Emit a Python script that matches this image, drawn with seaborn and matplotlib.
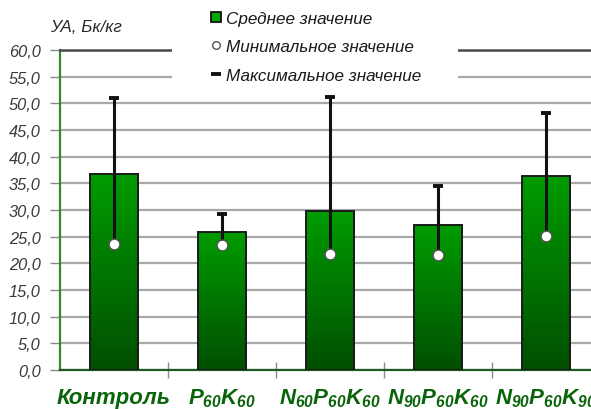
import numpy as np
import pandas as pd
import matplotlib
matplotlib.use("Agg")
import matplotlib.pyplot as plt
import seaborn as sns
from matplotlib.lines import Line2D
from matplotlib.patches import Rectangle
from matplotlib.ticker import FuncFormatter, MultipleLocator, FixedLocator
from matplotlib.colors import LinearSegmentedColormap

# Fertiliser variants and specific activity, Bq/kg
variants = ["Контроль", r"$P_{60}K_{60}$", r"$N_{60}P_{60}K_{60}$",
            r"$N_{90}P_{60}K_{60}$", r"$N_{90}P_{60}K_{90}$"]
mean_vals = [36.7, 25.9, 29.8, 27.1, 36.3]
min_vals = [23.7, 23.4, 21.7, 21.6, 25.1]
max_vals = [51.0, 29.2, 51.2, 34.5, 48.2]
legend_labels = ["Среднее значение", "Минимальное значение", "Максимальное значение"]
y_label = "УА, Бк/кг"

sns.set_theme(style="white")
plt.rcParams["font.family"] = ["Liberation Sans", "DejaVu Sans"]
plt.rcParams["mathtext.fontset"] = "custom"
for key in ("mathtext.rm", "mathtext.it", "mathtext.bf"):
    plt.rcParams[key] = "Liberation Sans:bold:italic"

W, H = 591, 410
fig = plt.figure(figsize=(W / 100, H / 100), dpi=100)
fig.patch.set_facecolor("white")
ax = fig.add_axes([60 / W, 39 / H, 540 / W, 320 / H])
ax.set_facecolor("white")

df = pd.DataFrame({"variant": variants, "mean": mean_vals,
                   "min": min_vals, "max": max_vals})

sns.barplot(data=df, x="variant", y="mean", ax=ax, width=0.445,
            color="#008000", edgecolor="#1a1a1a", linewidth=1.4,
            saturation=1, zorder=3)

# vertical gradient fill inside every bar
cmap = LinearSegmentedColormap.from_list("greens", ["#004f00", "#009c00"])
grad = np.linspace(0, 1, 256).reshape(-1, 1)
for p in ax.patches:
    x0, y0, w, h = p.get_x(), p.get_y(), p.get_width(), p.get_height()
    im = ax.imshow(grad, cmap=cmap, origin="lower", aspect="auto",
                   extent=[x0, x0 + w, y0, y0 + h], zorder=2.9,
                   interpolation="bicubic")
    im.set_clip_path(p)
    p.set_facecolor("none")

xs = np.arange(len(variants))
# range from minimum up to maximum, with a cap at the maximum
ax.vlines(xs, df["min"], df["max"], color="#111111", lw=2.2, zorder=4)
ax.hlines(df["max"], xs - 0.05, xs + 0.05, color="#111111", lw=2.8, zorder=4)
sns.scatterplot(x=xs, y=df["min"], ax=ax, marker="o", s=60, color="white",
                edgecolor="#555555", linewidth=1.0, zorder=5, legend=False)

ax.set_xlim(-0.5, len(variants) - 0.5)
ax.set_ylim(0, 60)
ax.set_xlabel("")
ax.set_ylabel("")

# y axis
ax.yaxis.set_major_locator(MultipleLocator(5))
ax.yaxis.set_major_formatter(FuncFormatter(lambda v, _: f"{v:.1f}".replace(".", ",")))
ax.yaxis.grid(True, color="#a8a8a8", lw=1.6, zorder=0)
ax.set_axisbelow(True)
ax.tick_params(axis="y", which="major", left=True, length=7, width=1,
               color="#8a8a8a", pad=7, labelsize=11.8, labelcolor="#3a3a3a")
for t in ax.get_yticklabels():
    t.set_fontstyle("italic")

# x axis: category labels, separator ticks between categories
ax.set_xticks(xs)
ax.set_xticklabels(variants)
ax.tick_params(axis="x", which="major", bottom=True, length=0, pad=12,
               labelsize=16, labelcolor="#0a640a")
for t in ax.get_xticklabels():
    t.set_fontstyle("italic")
    t.set_fontweight("bold")
ax.xaxis.set_minor_locator(FixedLocator(xs[:-1] + 0.5))
ax.tick_params(axis="x", which="minor", bottom=True, direction="inout",
               length=12, width=1, color="#8a8a8a")

ax.spines["right"].set_visible(False)
ax.spines["left"].set_color("#2e8b2e")
ax.spines["left"].set_linewidth(1.6)
ax.spines["bottom"].set_color("#1f5a1f")
ax.spines["bottom"].set_linewidth(1.6)
ax.spines["top"].set_color("#4a4a4a")
ax.spines["top"].set_linewidth(1.8)

# white backing behind the legend
fig.patches.append(Rectangle((172 / W, 1 - 90 / H), (458 - 172) / W, 90 / H,
                             transform=fig.transFigure, facecolor="white",
                             edgecolor="none", zorder=1))

handles = [
    Line2D([], [], linestyle="none", marker="s", markersize=6.5,
           markerfacecolor="#00a800", markeredgecolor="#111111", markeredgewidth=1.3),
    Line2D([], [], linestyle="none", marker="o", markersize=5.5,
           markerfacecolor="white", markeredgecolor="#555555", markeredgewidth=1.0),
    Line2D([], [], linestyle="none", marker="_", markersize=7.5,
           markeredgecolor="#111111", markeredgewidth=2.8),
]
leg = fig.legend(handles, legend_labels, loc="upper left",
                 bbox_to_anchor=(211 / W, 1 - 12 / H), frameon=False,
                 fontsize=12.3, handlelength=0.6, handletextpad=0.3,
                 labelspacing=0.78, borderpad=0, borderaxespad=0)
for t in leg.get_texts():
    t.set_fontstyle("italic")
    t.set_color("#1a1a1a")
leg.set_zorder(6)

fig.text(50 / W, 1 - 28 / H, y_label, ha="left", va="center",
         fontsize=12.3, fontstyle="italic", color="#2a2a2a")

fig.savefig("out.png", dpi=100, facecolor="white")
